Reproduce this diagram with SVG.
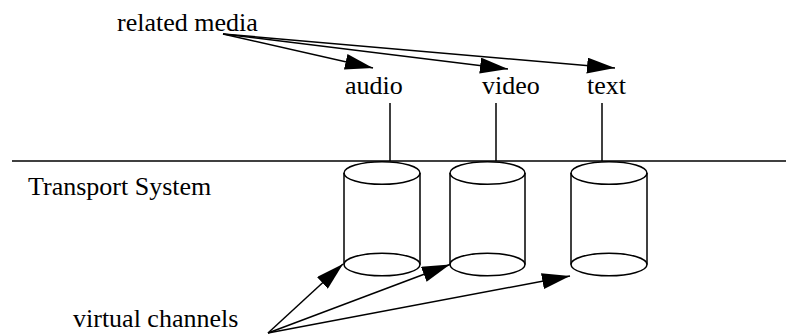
<svg xmlns="http://www.w3.org/2000/svg" width="786" height="334" viewBox="0 0 786 334">
<style>
.t{font-family:"Liberation Serif","Times New Roman",serif;font-size:26px;fill:#000}
.ln{stroke:#000;stroke-width:1.5;fill:none}
.cy{stroke:#000;stroke-width:1.5;fill:none}
</style>
<defs>
<marker id="ah" viewBox="0 0 28 16" refX="28" refY="8" markerWidth="28" markerHeight="16" markerUnits="userSpaceOnUse" orient="auto">
<path d="M0,0 L28,8 L0,16 Z" fill="#000"/>
</marker>
</defs>
<rect width="786" height="334" fill="#fff"/>
<g id="transport-line">
<line class="ln" x1="12" y1="161" x2="786" y2="161"/>
</g>
<g id="label-related-media"><text class="t" x="117" y="31">related media</text></g>
<g id="label-transport"><text class="t" x="28" y="195">Transport System</text></g>
<g id="label-virtual"><text class="t" x="73" y="327">virtual channels</text></g>
<g id="node-audio"><text class="t" x="345" y="94">audio</text></g>
<g id="node-video"><text class="t" x="482" y="94">video</text></g>
<g id="node-text"><text class="t" x="587" y="94">text</text></g>
<g id="cyl-1" class="cy">
<ellipse cx="382" cy="173" rx="38" ry="11.3"/>
<ellipse cx="382" cy="264.5" rx="38" ry="11.3"/>
<line x1="344" y1="173" x2="344" y2="264.5"/>
<line x1="420" y1="173" x2="420" y2="264.5"/>
</g>
<g id="cyl-2" class="cy">
<ellipse cx="487.5" cy="173" rx="37.5" ry="11.3"/>
<ellipse cx="487.5" cy="264.5" rx="37.5" ry="11.3"/>
<line x1="450" y1="173" x2="450" y2="264.5"/>
<line x1="525" y1="173" x2="525" y2="264.5"/>
</g>
<g id="cyl-3" class="cy">
<ellipse cx="609" cy="173" rx="38" ry="11.3"/>
<ellipse cx="609" cy="264.5" rx="38" ry="11.3"/>
<line x1="571" y1="173" x2="571" y2="264.5"/>
<line x1="647" y1="173" x2="647" y2="264.5"/>
</g>
<g id="connectors" class="ln">
<line x1="390" y1="103" x2="390" y2="161"/>
<line x1="496" y1="103" x2="496" y2="161"/>
<line x1="602" y1="103" x2="602" y2="161"/>
<line x1="223" y1="34" x2="373" y2="68" marker-end="url(#ah)"/>
<line x1="223" y1="34" x2="508" y2="69" marker-end="url(#ah)"/>
<line x1="223" y1="34" x2="615" y2="68" marker-end="url(#ah)"/>
<line x1="268" y1="333" x2="343" y2="264" marker-end="url(#ah)"/>
<line x1="268" y1="333" x2="450" y2="264.5" marker-end="url(#ah)"/>
<line x1="268" y1="333" x2="570" y2="276" marker-end="url(#ah)"/>
</g>
</svg>
